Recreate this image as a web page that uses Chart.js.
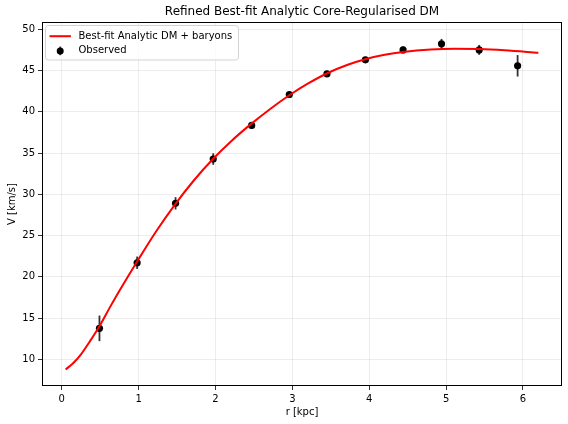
<!DOCTYPE html>
<html>
<head>
<meta charset="utf-8">
<script src="https://cdn.jsdelivr.net/npm/chart.js@4/dist/chart.umd.min.js"></script>
<style>
  html, body { margin: 0; padding: 0; background: #fff; }
  canvas { display: block; }
</style>
</head>
<body>
<canvas id="rcChart" width="568" height="424"></canvas>
<script>
// observed rotation curve
const obsR = [0.49, 0.98, 1.48, 1.97, 2.47, 2.96, 3.45, 3.95, 4.44, 4.94, 5.43, 5.93];
const obsV = [13.75, 21.7, 28.9, 34.27, 38.34, 42.09, 44.6, 46.3, 47.5, 48.23, 47.5, 45.57];
const obsErr = [1.55, 0.75, 0.75, 0.7, 0.4, 0.35, 0.35, 0.35, 0.4, 0.6, 0.6, 1.3];

// best-fit model curve
const fitR = [0.05, 0.15, 0.25, 0.36, 0.49, 0.62, 0.75, 0.99, 1.22, 1.46, 1.72, 1.97, 2.2, 2.46, 2.72, 2.96, 3.2, 3.46, 3.72, 3.96, 4.2, 4.44, 4.8, 5.11, 5.43, 5.76, 6.2];
const fitV = [8.77, 9.55, 10.6, 12.1, 14.0, 16.2, 18.3, 22.0, 25.4, 28.6, 31.7, 34.3, 36.4, 38.5, 40.4, 42.0, 43.4, 44.7, 45.7, 46.4, 46.9, 47.25, 47.55, 47.64, 47.6, 47.45, 47.15];

const xTicks = [0, 1, 2, 3, 4, 5, 6];
const yTicks = [10, 15, 20, 25, 30, 35, 40, 45, 50];

const titleText = 'Refined Best-fit Analytic Core-Regularised DM';
const fitLabel = 'Best-fit Analytic DM + baryons';
const obsLabel = 'Observed';

const FONT = "'DejaVu Sans', 'Liberation Sans', sans-serif";
const ERR_COLOR = 'rgba(0,0,0,0.8)';

const mplLook = {
    id: 'mplLook',
    beforeDatasetDraw(chart, args) {
        // error bars go under the markers
        if (args.index !== 1) return;
        const ctx = chart.ctx, xs = chart.scales.x, ys = chart.scales.y;
        ctx.save();
        ctx.strokeStyle = ERR_COLOR;
        ctx.lineWidth = 1.8;
        obsR.forEach(function (r, i) {
            const px = xs.getPixelForValue(r);
            ctx.beginPath();
            ctx.moveTo(px, ys.getPixelForValue(obsV[i] - obsErr[i]));
            ctx.lineTo(px, ys.getPixelForValue(obsV[i] + obsErr[i]));
            ctx.stroke();
        });
        ctx.restore();
    },
    afterDraw(chart) {
        const ctx = chart.ctx, a = chart.chartArea;
        ctx.save();
        // frame
        ctx.strokeStyle = '#000';
        ctx.lineWidth = 1;
        const l = Math.round(a.left) + 0.5, t = Math.round(a.top) + 0.5;
        const r = Math.round(a.right) - 0.5, b = Math.round(a.bottom) - 0.5;
        ctx.strokeRect(l, t, r - l, b - t);

        // title
        ctx.fillStyle = '#000';
        ctx.font = '12px ' + FONT;
        ctx.textAlign = 'center';
        ctx.textBaseline = 'middle';
        ctx.fillText(titleText, (a.left + a.right) / 2, 12);

        // legend box
        const bx = a.left + 3.5, by = a.top + 3.5, bw = 193, bh = 34.5, rad = 3;
        ctx.beginPath();
        ctx.moveTo(bx + rad, by);
        ctx.arcTo(bx + bw, by, bx + bw, by + bh, rad);
        ctx.arcTo(bx + bw, by + bh, bx, by + bh, rad);
        ctx.arcTo(bx, by + bh, bx, by, rad);
        ctx.arcTo(bx, by, bx + bw, by, rad);
        ctx.closePath();
        ctx.fillStyle = 'rgba(255,255,255,0.8)';
        ctx.fill();
        ctx.strokeStyle = '#d3d3d3';
        ctx.lineWidth = 1;
        ctx.stroke();

        const row1 = by + 10.7, row2 = by + 25.4;
        ctx.strokeStyle = 'red';
        ctx.lineWidth = 2;
        ctx.beginPath();
        ctx.moveTo(bx + 4, row1);
        ctx.lineTo(bx + 25.4, row1);
        ctx.stroke();

        ctx.strokeStyle = ERR_COLOR;
        ctx.lineWidth = 1.8;
        ctx.beginPath();
        ctx.moveTo(bx + 14.7, row2 - 4.3);
        ctx.lineTo(bx + 14.7, row2 + 4.3);
        ctx.stroke();
        ctx.fillStyle = '#000';
        ctx.beginPath();
        ctx.arc(bx + 14.7, row2, 3.5, 0, Math.PI * 2);
        ctx.fill();

        ctx.font = '10px ' + FONT;
        ctx.textAlign = 'left';
        ctx.fillText(fitLabel, bx + 33, row1);
        ctx.fillText(obsLabel, bx + 33, row2);
        ctx.restore();
    }
};

const ctx = document.getElementById('rcChart').getContext('2d');
new Chart(ctx, {
    type: 'line',
    data: {
        datasets: [{
            label: fitLabel,
            data: fitR.map(function (r, i) { return { x: r, y: fitV[i] }; }),
            borderColor: 'red',
            borderWidth: 2,
            pointRadius: 0,
            fill: false,
            cubicInterpolationMode: 'monotone'
        }, {
            label: obsLabel,
            data: obsR.map(function (r, i) { return { x: r, y: obsV[i] }; }),
            showLine: false,
            pointRadius: 3.6,
            pointBackgroundColor: '#000',
            pointBorderColor: '#000',
            pointBorderWidth: 0
        }]
    },
    options: {
        responsive: false,
        animation: false,
        layout: { padding: { top: 22, right: 6, left: 0, bottom: 0 } },
        plugins: {
            legend: { display: false },
            title: { display: false },
            tooltip: { enabled: false }
        },
        scales: {
            x: {
                type: 'linear',
                min: -0.2575,
                max: 6.5075,
                afterFit: function (s) { s.height = 38; },
                afterBuildTicks: function (s) { s.ticks = xTicks.map(function (v) { return { value: v }; }); },
                grid: { color: 'rgba(176,176,176,0.3)', lineWidth: 0.8, tickColor: '#000', tickLength: 4 },
                border: { display: false },
                ticks: { color: '#000', padding: 3, maxRotation: 0, font: { family: FONT, size: 10 } },
                title: { display: true, text: 'r [kpc]', color: '#000', padding: { top: 0, bottom: 6 }, font: { family: FONT, size: 10 } }
            },
            y: {
                type: 'linear',
                min: 6.76,
                max: 50.88,
                afterFit: function (s) { s.width = 42; },
                afterBuildTicks: function (s) { s.ticks = yTicks.map(function (v) { return { value: v }; }); },
                grid: { color: 'rgba(176,176,176,0.3)', lineWidth: 0.8, tickColor: '#000', tickLength: 4 },
                border: { display: false },
                ticks: { color: '#000', padding: 3, font: { family: FONT, size: 10 } },
                title: { display: true, text: 'V [km/s]', color: '#000', padding: { top: 6, bottom: 0 }, font: { family: FONT, size: 10 } }
            }
        }
    },
    plugins: [mplLook]
});
</script>
</body>
</html>
